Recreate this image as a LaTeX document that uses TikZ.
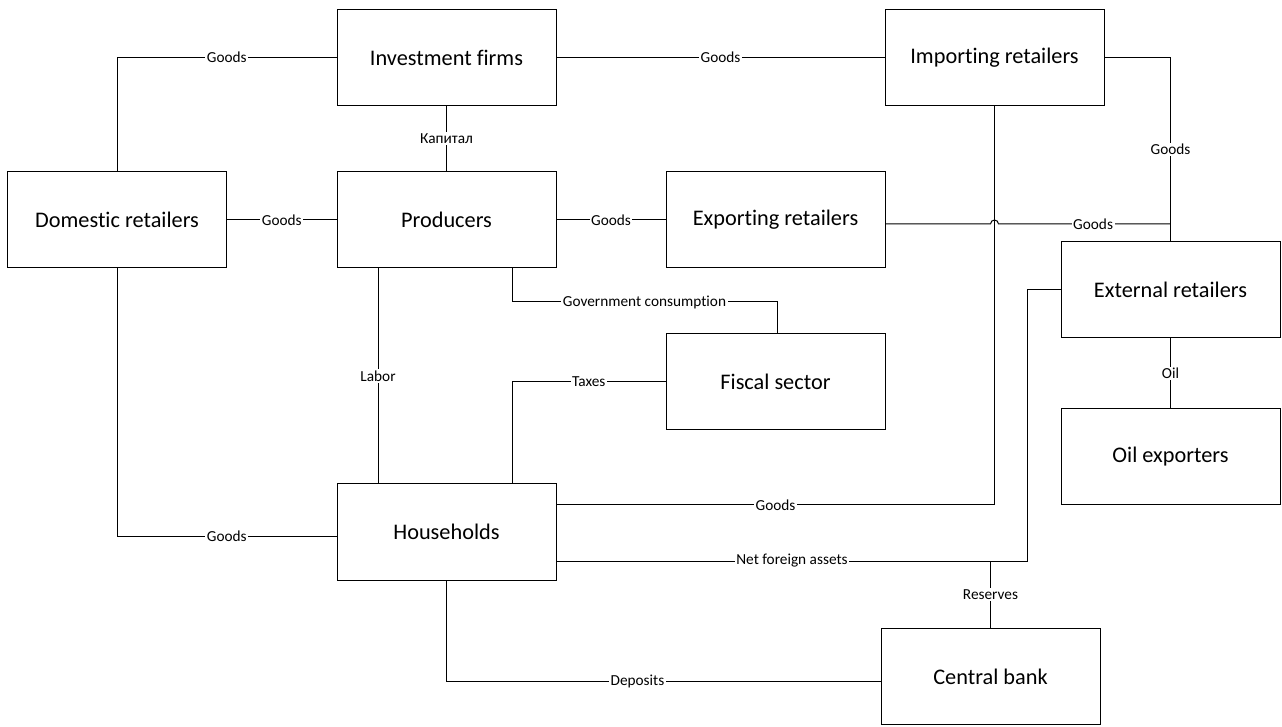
\documentclass[tikz,border=0pt]{standalone}
\usepackage{fontspec}
\setmainfont{Carlito}[Ligatures=NoCommon]
\usetikzlibrary{calc}

\begin{document}
\begin{tikzpicture}[
    x=1pt, y=1pt,
    every path/.style={line width=1pt},
    sector/.style={
      draw, line width=1pt,
      minimum width=219pt, minimum height=96pt,
      font=\fontsize{22.3}{25}\selectfont,
    },
    flow/.style={
      fill=white, inner sep=1.5pt,
      font=\fontsize{15.3}{17}\selectfont,
    }]
    \useasboundingbox (0,0) rectangle (1282,726);
    % sectors
    \node[sector] (inv)  at (446.5,668.5) {Investment firms};
    \node[sector] (imp)  at (994.5,668.5) {Importing retailers};
    \node[sector] (dom)  at (117,506)     {Domestic retailers};
    \node[sector] (prod) at (446.5,506)   {Producers};
    \node[sector] (exp)  at (775.5,506)   {Exporting retailers};
    \node[sector] (ext)  at (1170.5,436)  {External retailers};
    \node[sector] (fis)  at (775.5,344)   {Fiscal sector};
    \node[sector] (oil)  at (1170.5,269)  {Oil exporters};
    \node[sector] (hh)   at (446.5,194)   {Households};
    \node[sector] (cb)   at (990.5,49.5)  {Central bank};
    % helper points
    \coordinate (expout) at ($(exp.east)+(0,-4)$);
    \coordinate (hop)    at (expout -| imp.south);
    \coordinate (gcup)   at ($(prod.south)+(65.5,0)$);
    \coordinate (gc)     at (777,424);
    \coordinate (txup)   at ($(hh.north)+(65.5,0)$);
    \coordinate (lbup)   at ($(prod.south)+(-68.5,0)$);
    \coordinate (lbdn)   at ($(hh.north)+(-68.5,0)$);
    \coordinate (hhgd)   at ($(hh.east)+(0,27)$);
    \coordinate (nfa)    at ($(hh.east)+(0,-29)$);
    \coordinate (nfaup)  at ($(ext.west)+(-33,0)$);
    \coordinate (hhdom)  at ($(hh.west)+(0,-4)$);
    \coordinate (cbin)   at ($(cb.west)+(0,-4.5)$);
    % flows
    \draw (dom.north) |- node[flow,pos=.75]{Goods} (inv.west);
    \draw (dom.east) -- node[flow]{Goods} (prod.west);
    \draw (inv.south) -- node[flow]{Капитал} (prod.north);
    \draw (inv.east) -- node[flow]{Goods} (imp.west);
    \draw (imp.east) -| node[flow,pos=.75]{Goods} (ext.north);
    \draw (prod.east) -- node[flow]{Goods} (exp.west);
    \draw (expout) -- ($(hop)+(-4,0)$) arc[start angle=180,end angle=0,radius=4]
      -- node[flow,pos=.55]{Goods} (expout -| ext.north);
    \draw (gcup) |- node[flow,pos=.75]{Government consumption} (gc) -- (gc |- fis.north);
    \draw (lbup) -- node[flow]{Labor} (lbdn);
    \draw (txup) |- node[flow,pos=.75]{Taxes} (fis.west);
    \draw (dom.south) |- node[flow,pos=.75]{Goods} (hhdom);
    \draw (hhgd) -| node[flow,pos=.25]{Goods} (imp.south);
    \draw (nfa) -| node[flow,pos=.25]{Net foreign assets} (nfaup) -- (ext.west);
    \draw (nfa -| cb.north) -- node[flow]{Reserves} (cb.north);
    \draw (hh.south) |- node[flow,pos=.72]{Deposits} (cbin);
    \draw (ext.south) -- node[flow]{Oil} (oil.north);
  \end{tikzpicture}
\end{document}
